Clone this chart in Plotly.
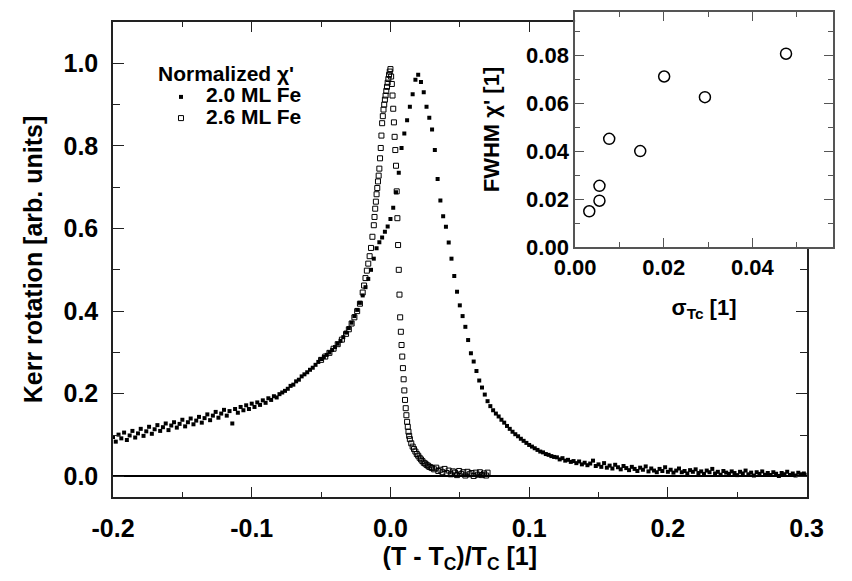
import plotly.graph_objects as go

# ---- main panel data: normalized chi' vs reduced temperature ----
x_20 = [-0.200, -0.198, -0.196, -0.194, -0.192, -0.190, -0.188, -0.186, -0.184, -0.182,
        -0.180, -0.178, -0.176, -0.174, -0.172, -0.170, -0.168, -0.166, -0.164, -0.162,
        -0.160, -0.158, -0.156, -0.154, -0.152, -0.150, -0.148, -0.146, -0.144, -0.142,
        -0.140, -0.138, -0.136, -0.134, -0.132, -0.130, -0.128, -0.126, -0.124, -0.122,
        -0.120, -0.118, -0.116, -0.114, -0.112, -0.110, -0.108, -0.106, -0.104, -0.102,
        -0.100, -0.098, -0.096, -0.094, -0.092, -0.090, -0.088, -0.086, -0.084, -0.082,
        -0.080, -0.078, -0.076, -0.074, -0.072, -0.070, -0.068, -0.066, -0.064, -0.062,
        -0.060, -0.058, -0.056, -0.054, -0.052, -0.050, -0.048, -0.046, -0.044, -0.042,
        -0.040, -0.038, -0.036, -0.034, -0.032, -0.030, -0.028, -0.026, -0.024, -0.022,
        -0.020, -0.018, -0.016, -0.014, -0.012, -0.010, -0.008, -0.006, -0.004, -0.002,
        0.000, 0.002, 0.004, 0.006, 0.008, 0.010, 0.012, 0.014, 0.016, 0.018,
        0.020, 0.022, 0.024, 0.026, 0.028, 0.030, 0.032, 0.034, 0.036, 0.038,
        0.040, 0.042, 0.044, 0.046, 0.048, 0.050, 0.052, 0.054, 0.056, 0.058,
        0.060, 0.062, 0.064, 0.066, 0.068, 0.070, 0.072, 0.074, 0.076, 0.078,
        0.080, 0.082, 0.084, 0.086, 0.088, 0.090, 0.092, 0.094, 0.096, 0.098,
        0.100, 0.102, 0.104, 0.106, 0.108, 0.110, 0.112, 0.114, 0.116, 0.118,
        0.120, 0.122, 0.124, 0.126, 0.128, 0.130, 0.132, 0.134, 0.136, 0.138,
        0.140, 0.142, 0.144, 0.146, 0.148, 0.150, 0.152, 0.154, 0.156, 0.158,
        0.160, 0.162, 0.164, 0.166, 0.168, 0.170, 0.172, 0.174, 0.176, 0.178,
        0.180, 0.182, 0.184, 0.186, 0.188, 0.190, 0.192, 0.194, 0.196, 0.198,
        0.200, 0.202, 0.204, 0.206, 0.208, 0.210, 0.212, 0.214, 0.216, 0.218,
        0.220, 0.222, 0.224, 0.226, 0.228, 0.230, 0.232, 0.234, 0.236, 0.238,
        0.240, 0.242, 0.244, 0.246, 0.248, 0.250, 0.252, 0.254, 0.256, 0.258,
        0.260, 0.262, 0.264, 0.266, 0.268, 0.270, 0.272, 0.274, 0.276, 0.278,
        0.280, 0.282, 0.284, 0.286, 0.288, 0.290, 0.292, 0.294, 0.296, 0.298,
        0.300]
y_20 = [0.095, 0.084, 0.101, 0.092, 0.106, 0.088, 0.099, 0.110, 0.094, 0.104,
        0.115, 0.098, 0.109, 0.120, 0.103, 0.114, 0.124, 0.110, 0.119, 0.128,
        0.112, 0.123, 0.131, 0.118, 0.127, 0.137, 0.121, 0.131, 0.140, 0.126,
        0.135, 0.144, 0.130, 0.141, 0.150, 0.136, 0.147, 0.156, 0.142, 0.152,
        0.161, 0.147, 0.158, 0.128, 0.163, 0.154, 0.168, 0.160, 0.172, 0.163,
        0.176, 0.168, 0.179, 0.173, 0.184, 0.178, 0.189, 0.185, 0.194, 0.191,
        0.199, 0.203, 0.207, 0.212, 0.219, 0.222, 0.230, 0.234, 0.242, 0.247,
        0.252, 0.258, 0.263, 0.270, 0.277, 0.284, 0.289, 0.294, 0.300, 0.306,
        0.313, 0.321, 0.328, 0.337, 0.348, 0.359, 0.372, 0.388, 0.403, 0.420,
        0.438, 0.458, 0.478, 0.500, 0.527, 0.552, 0.567, 0.578, 0.592, 0.605,
        0.623, 0.650, 0.688, 0.735, 0.795, 0.830, 0.862, 0.895, 0.925, 0.960,
        0.972, 0.955, 0.930, 0.895, 0.868, 0.840, 0.790, 0.720, 0.668, 0.630,
        0.604, 0.566, 0.527, 0.485, 0.447, 0.414, 0.388, 0.362, 0.330, 0.298,
        0.278, 0.255, 0.232, 0.215, 0.198, 0.182, 0.170, 0.160, 0.152, 0.145,
        0.137, 0.130, 0.122, 0.115, 0.108, 0.102, 0.097, 0.091, 0.086, 0.081,
        0.076, 0.072, 0.068, 0.064, 0.060, 0.058, 0.054, 0.052, 0.049, 0.047,
        0.046, 0.041, 0.044, 0.038, 0.040, 0.035, 0.037, 0.032, 0.036, 0.029,
        0.033, 0.027, 0.031, 0.038, 0.025, 0.029, 0.023, 0.032, 0.021, 0.026,
        0.019, 0.028, 0.022, 0.017, 0.025, 0.020, 0.015, 0.023, 0.018, 0.013,
        0.021, 0.016, 0.024, 0.012, 0.019, 0.014, 0.010, 0.018, 0.013, 0.022,
        0.011, 0.016, 0.009, 0.014, 0.019, 0.010, 0.013, 0.007, 0.015, 0.011,
        0.017, 0.008, 0.012, 0.006, 0.014, 0.010, 0.018, 0.007, 0.011, 0.004,
        0.013, 0.009, 0.006, 0.012, 0.008, 0.003, 0.011, 0.007, 0.014, 0.005,
        0.009, 0.002, 0.010, 0.006, 0.012, 0.004, 0.008, 0.003, 0.010, 0.006,
        0.001, 0.008, 0.005, 0.011, 0.003, 0.007, 0.002, 0.009, 0.005, 0.007,
        0.004]

x_26 = [-0.050, -0.047, -0.044, -0.041, -0.038, -0.035, -0.032, -0.030, -0.028, -0.026,
        -0.024, -0.022, -0.020, -0.019, -0.018, -0.017, -0.016, -0.015, -0.014, -0.013,
        -0.012, -0.0115, -0.011, -0.0105, -0.010, -0.0095, -0.009, -0.0085, -0.008, -0.0075,
        -0.007, -0.0065, -0.006, -0.0055, -0.005, -0.0045, -0.004, -0.0035, -0.003, -0.0025,
        -0.002, -0.0015, -0.001, -0.0005, 0.000, 0.0005, 0.001, 0.0015, 0.002, 0.0025,
        0.003, 0.0035, 0.004, 0.0045, 0.005, 0.0055, 0.006, 0.0065, 0.007, 0.0075,
        0.008, 0.0085, 0.009, 0.0095, 0.010, 0.0105, 0.011, 0.0115, 0.012, 0.0125,
        0.013, 0.0135, 0.014, 0.015, 0.016, 0.017, 0.018, 0.019, 0.020, 0.021,
        0.022, 0.023, 0.024, 0.025, 0.026, 0.027, 0.028, 0.029, 0.030, 0.0315,
        0.033, 0.0345, 0.036, 0.0375, 0.039, 0.0405, 0.042, 0.0435, 0.045, 0.0465,
        0.048, 0.0495, 0.051, 0.0525, 0.054, 0.0555, 0.057, 0.0585, 0.060, 0.0615,
        0.063, 0.0645, 0.066, 0.0675, 0.069, 0.070]
y_26 = [0.282, 0.290, 0.299, 0.309, 0.320, 0.331, 0.345, 0.356, 0.370, 0.385,
        0.400, 0.418, 0.445, 0.462, 0.480, 0.498, 0.515, 0.533, 0.553, 0.580,
        0.608, 0.628, 0.648, 0.665, 0.683, 0.698, 0.714, 0.728, 0.745, 0.770,
        0.795, 0.825, 0.855, 0.872, 0.888, 0.900, 0.912, 0.922, 0.933, 0.943,
        0.953, 0.962, 0.972, 0.980, 0.986, 0.968, 0.950, 0.922, 0.890, 0.857,
        0.822, 0.790, 0.752, 0.690, 0.625, 0.560, 0.500, 0.440, 0.385, 0.350,
        0.318, 0.290, 0.262, 0.235, 0.208, 0.185, 0.165, 0.148, 0.132, 0.120,
        0.108, 0.098, 0.090, 0.080, 0.072, 0.066, 0.060, 0.054, 0.050, 0.045,
        0.041, 0.037, 0.033, 0.031, 0.028, 0.026, 0.023, 0.022, 0.020, 0.017,
        0.021, 0.013, 0.016, 0.010, 0.018, 0.008, 0.014, 0.005, 0.012, 0.009,
        0.003, 0.013, 0.006, 0.010, 0.002, 0.011, 0.005, 0.008, 0.001, 0.009,
        0.004, 0.010, 0.003, 0.007, 0.002, 0.009]

# ---- inset data: FWHM of chi' vs sigma_Tc ----
sigma_tc = [0.0476, 0.0201, 0.0293, 0.0077, 0.0147, 0.0055, 0.0055, 0.0032]
fwhm_chi = [0.0806, 0.0711, 0.0625, 0.0451, 0.0400, 0.0255, 0.0193, 0.0149]

# ---- tick labels ----
main_xticks = [-0.2, -0.1, 0.0, 0.1, 0.2, 0.3]
main_xlabels = ["-0.2", "-0.1", "0.0", "0.1", "0.2", "0.3"]
main_yticks = [0.0, 0.2, 0.4, 0.6, 0.8, 1.0]
main_ylabels = ["0.0", "0.2", "0.4", "0.6", "0.8", "1.0"]
inset_xticks = [0.00, 0.02, 0.04]
inset_xlabels = ["0.00", "0.02", "0.04"]
inset_yticks = [0.00, 0.02, 0.04, 0.06, 0.08]
inset_ylabels = ["0.00", "0.02", "0.04", "0.06", "0.08"]

FONT = "Liberation Sans, Arial, sans-serif"
BOLD = dict(family=FONT, weight="bold", color="black")

fig = go.Figure()
fig.add_trace(go.Scatter(
    x=x_20, y=y_20, mode="markers",
    name='<span style="font-size:21px">2.0 ML Fe</span>',
    marker=dict(symbol="square", size=4, color="black", line=dict(width=0)),
    xaxis="x", yaxis="y"))
fig.add_trace(go.Scatter(
    x=x_26, y=y_26, mode="markers",
    name='<span style="font-size:21px">2.6 ML Fe</span>',
    marker=dict(symbol="square-open", size=5, color="black", line=dict(width=1)),
    xaxis="x", yaxis="y"))
fig.add_trace(go.Scatter(
    x=sigma_tc, y=fwhm_chi, mode="markers", showlegend=False,
    marker=dict(symbol="circle-open", size=11, color="black", line=dict(width=1.5)),
    xaxis="x2", yaxis="y2"))

L, R, T, B = 113, 2, 12, 84
W, H = 852, 581
pw, ph = W - L - R, H - T - B
main_right = 823
main_top = 22
ins_left, ins_bottom = 586, 247

axis_common = dict(showgrid=False, ticks="inside", mirror="allticks",
                   showline=True, linewidth=1.5)

fig.update_layout(
    width=W, height=H,
    margin=dict(l=L, r=R, t=T, b=B),
    paper_bgcolor="white", plot_bgcolor="white",
    font=dict(family=FONT, color="black"),
    xaxis=dict(**axis_common, domain=[0, (main_right - L) / pw],
               range=[-0.2, 0.3], linecolor="#222",
               tickmode="array", tickvals=main_xticks, ticktext=main_xlabels,
               ticklen=10, tickwidth=1.2, tickcolor="#222", ticklabelstandoff=8,
               minor=dict(ticks="inside", dtick=0.05, tick0=0, ticklen=5, tickcolor="#222"),
               tickfont=dict(**BOLD, size=25), zeroline=False,
               title=dict(text="(T - T<sub>C</sub>)/T<sub>C</sub> [1]",
                          font=dict(**BOLD, size=25), standoff=6)),
    yaxis=dict(**axis_common, domain=[0, (H - B - main_top) / ph],
               range=[-0.05, 1.1], linecolor="#222",
               tickmode="array", tickvals=main_yticks, ticktext=main_ylabels,
               ticklen=11, tickwidth=1.2, tickcolor="#222", ticklabelstandoff=8,
               minor=dict(ticks="inside", dtick=0.1, tick0=0, ticklen=7, tickcolor="#222"),
               tickfont=dict(**BOLD, size=25),
               zeroline=True, zerolinecolor="black", zerolinewidth=1.5,
               title=dict(text="Kerr rotation [arb. units]",
                          font=dict(**BOLD, size=25), standoff=14)),
    xaxis2=dict(**axis_common, domain=[(ins_left - L) / pw, 1.0], anchor="y2",
                range=[0, 0.0582], linecolor="#555",
                tickmode="array", tickvals=inset_xticks, ticktext=inset_xlabels,
                ticklen=9, tickwidth=1.2, tickcolor="#555",
                minor=dict(ticks="inside", dtick=0.01, tick0=0, ticklen=5, tickcolor="#555"),
                tickfont=dict(**BOLD, size=22), zeroline=False,
                title=dict(text="σ<sub>Tc</sub> [1]", font=dict(**BOLD, size=22), standoff=20)),
    yaxis2=dict(**axis_common, domain=[(H - B - ins_bottom) / ph, 1.0], anchor="x2",
                range=[0, 0.098], linecolor="#555",
                tickmode="array", tickvals=inset_yticks, ticktext=inset_ylabels,
                ticklen=9, tickwidth=1.2, tickcolor="#555",
                minor=dict(ticks="inside", dtick=0.01, tick0=0, ticklen=5, tickcolor="#555"),
                tickfont=dict(**BOLD, size=22), zeroline=False,
                title=dict(text="FWHM χ' [1]", font=dict(**BOLD, size=22), standoff=20)),
    showlegend=True,
    legend=dict(x=(157 - L) / pw, y=(H - B - 54) / ph, xanchor="left", yanchor="top",
                bgcolor="rgba(0,0,0,0)", font=dict(**BOLD, size=14),
                title=dict(text="Normalized χ'", font=dict(**BOLD, size=21)),
                tracegroupgap=0, itemsizing="trace", itemwidth=40),
)

fig.write_html("out.html")
